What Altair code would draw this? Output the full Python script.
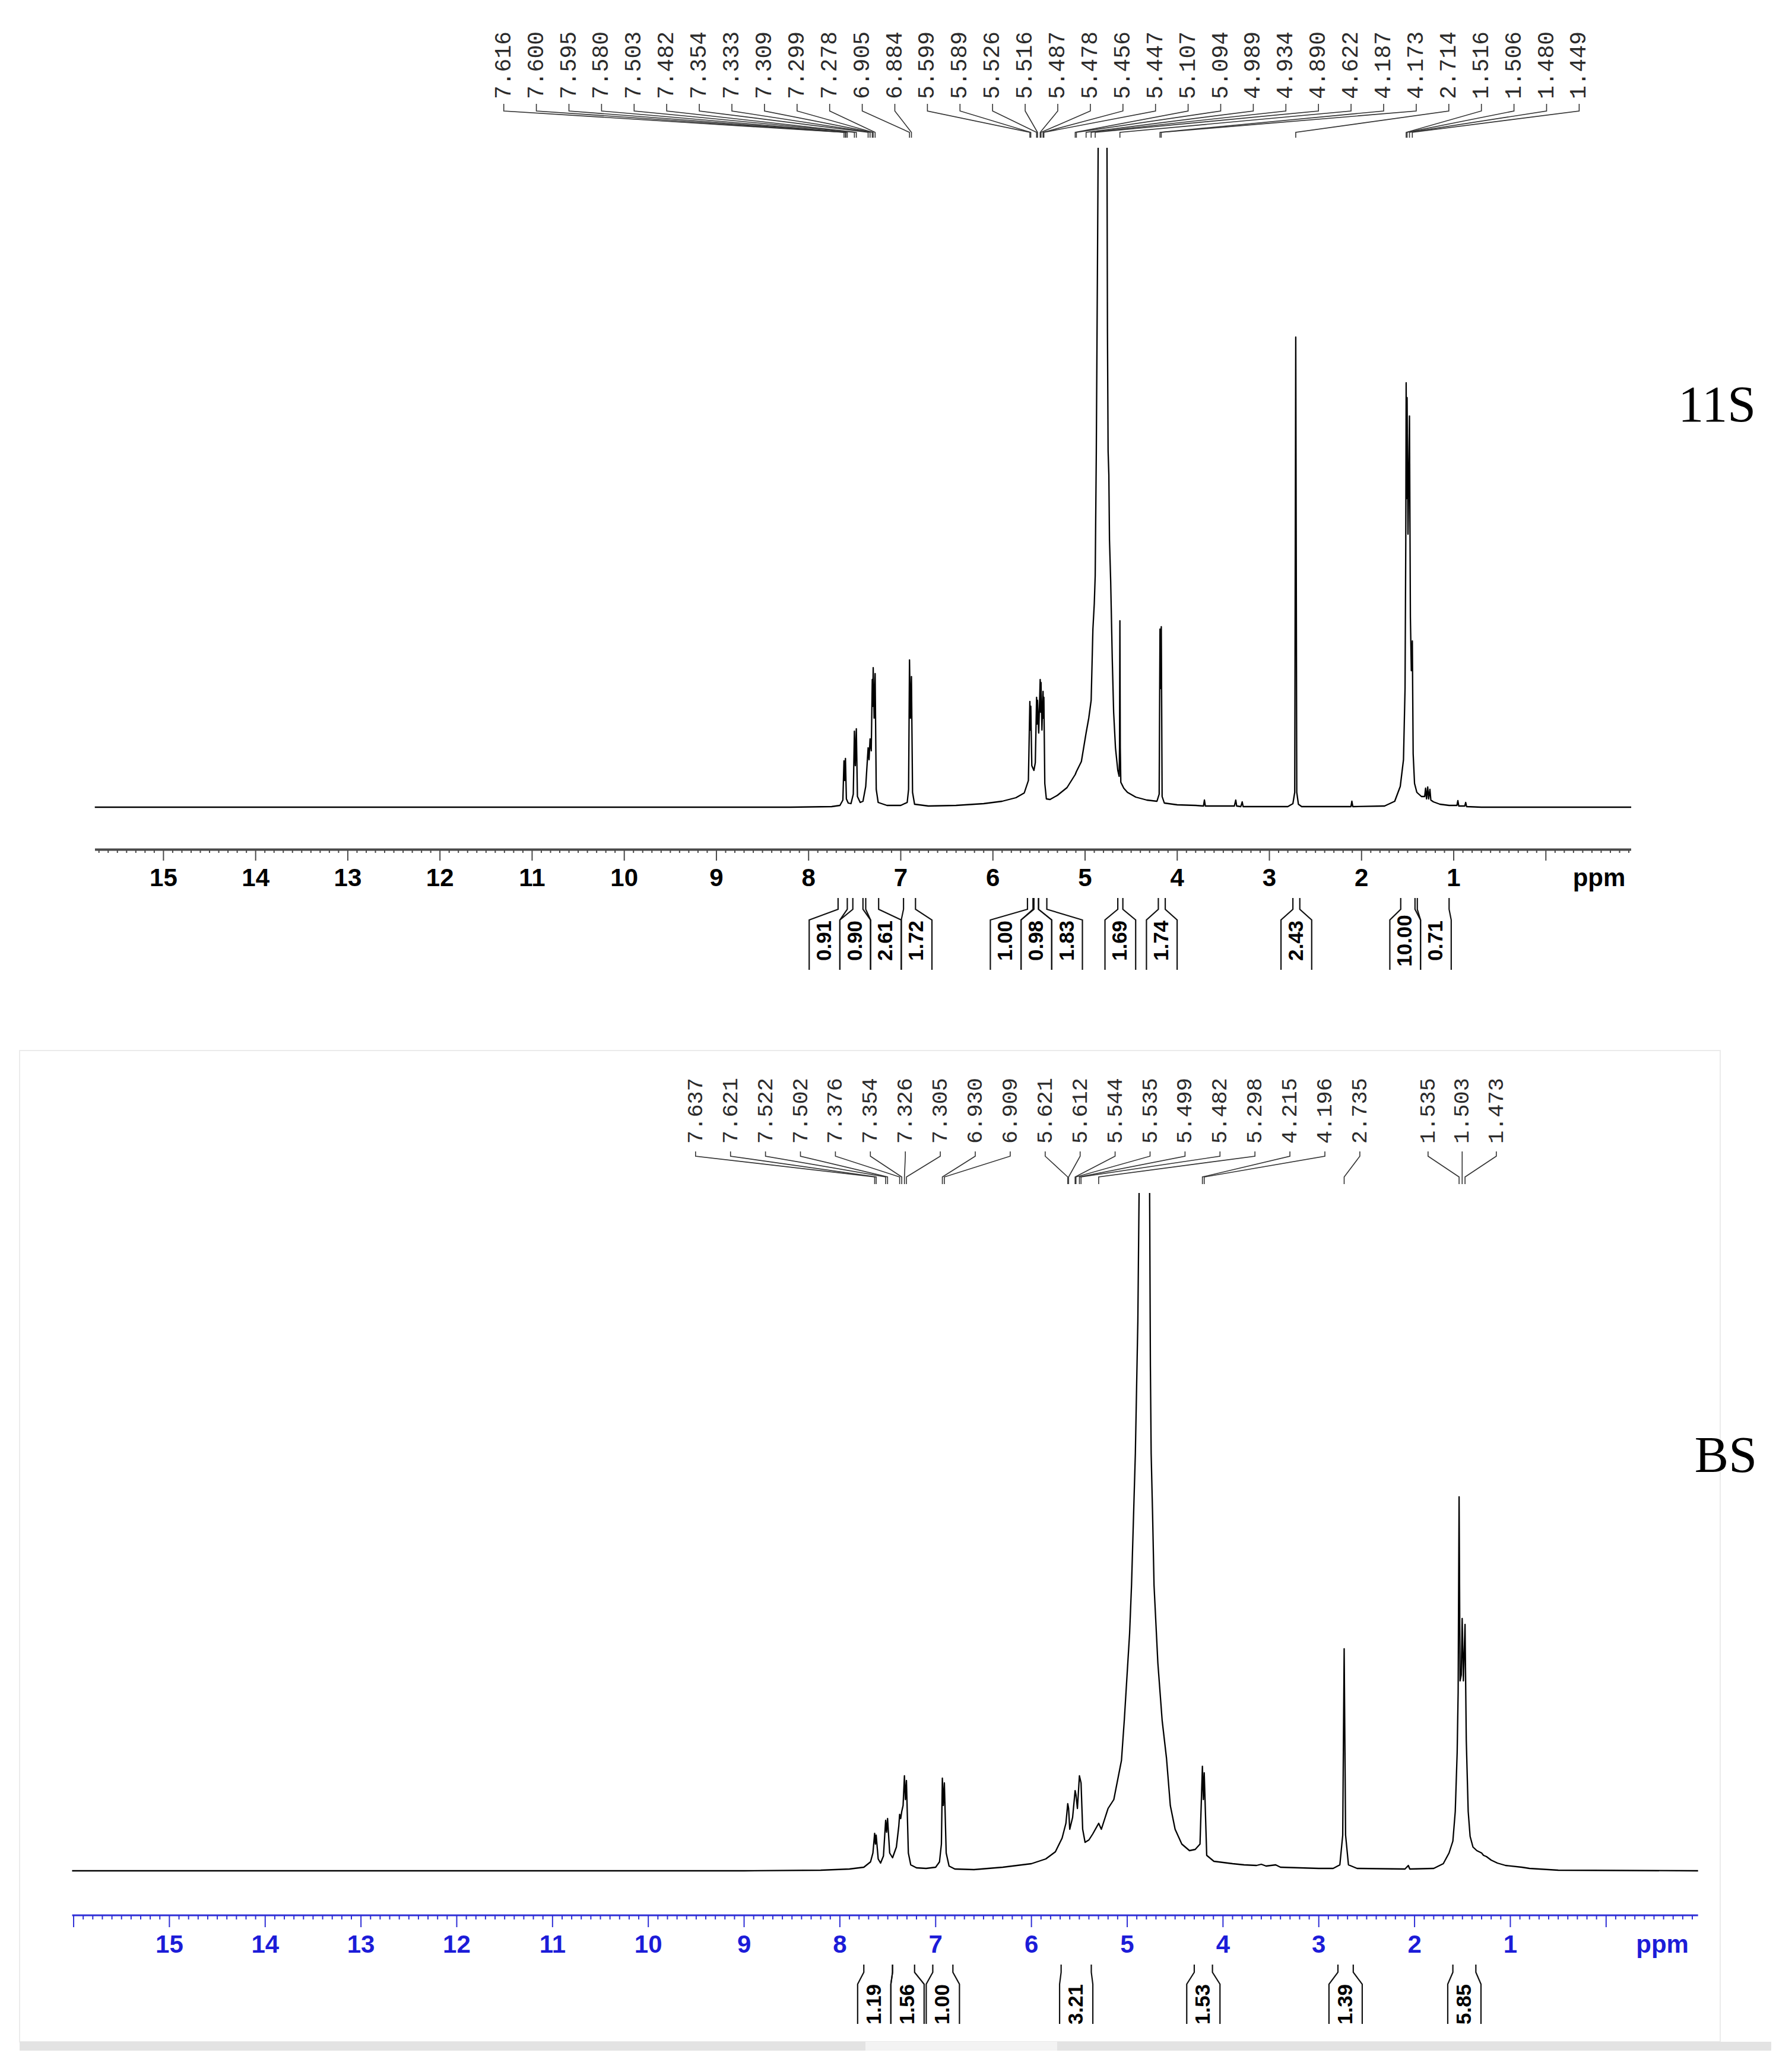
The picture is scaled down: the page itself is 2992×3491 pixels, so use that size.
import altair as alt
import pandas as pd

# ======================= DATA =======================
TOP_NAME = "11S"
BOT_NAME = "BS"
AXIS_TICK_LABELS = [15, 14, 13, 12, 11, 10, 9, 8, 7, 6, 5, 4, 3, 2, 1]

TOP_PEAK_LABELS = ["7.616", "7.600", "7.595", "7.580", "7.503", "7.482", "7.354", "7.333",
                   "7.309", "7.299", "7.278", "6.905", "6.884", "5.599", "5.589", "5.526",
                   "5.516", "5.487", "5.478", "5.456", "5.447", "5.107", "5.094", "4.989",
                   "4.934", "4.890", "4.622", "4.187", "4.173", "2.714", "1.516", "1.506",
                   "1.480", "1.449"]
BOT_PEAK_LABELS_A = ["7.637", "7.621", "7.522", "7.502", "7.376", "7.354", "7.326", "7.305",
                     "6.930", "6.909", "5.621", "5.612", "5.544", "5.535", "5.499", "5.482",
                     "5.298", "4.215", "4.196", "2.735"]
BOT_PEAK_LABELS_B = ["1.535", "1.503", "1.473"]

TOP_INTEGRALS = ["0.91", "0.90", "2.61", "1.72", "1.00", "0.98", "1.83", "1.69", "1.74",
                 "2.43", "10.00", "0.71"]
TOP_INT_FROM = [7.68, 7.52, 7.38, 6.97, 5.625, 5.555, 5.505, 4.645, 4.205, 2.745, 1.575, 1.395]
TOP_INT_TO = [7.58, 7.41, 7.24, 6.84, 5.565, 5.505, 5.415, 4.590, 4.130, 2.670, 1.420, 1.050]

BOT_INTEGRALS = ["1.19", "1.56", "1.00", "3.21", "1.53", "1.39", "5.85"]
BOT_INT_FROM = [7.75, 7.45, 7.03, 5.69, 4.30, 2.80, 1.60]
BOT_INT_TO = [7.45, 7.22, 6.82, 5.375, 4.11, 2.64, 1.36]

# spectrum traces: chemical shift (ppm) and intensity (arbitrary units)
TOP_TRACE_PPM = [
    15.745, 8.20, 7.75, 7.66, 7.628, 7.616, 7.608, 7.600, 7.590, 7.570, 7.540, 7.515, 7.503,
    7.493, 7.482, 7.470, 7.440, 7.410, 7.380, 7.354, 7.344, 7.333, 7.320, 7.309, 7.304, 7.299,
    7.289, 7.278, 7.266, 7.245, 7.150, 7.000, 6.930, 6.915, 6.905, 6.895, 6.884, 6.872, 6.850,
    6.700, 6.400, 6.100, 5.900, 5.750, 5.660, 5.615, 5.599, 5.594, 5.589, 5.578, 5.555, 5.540,
    5.526, 5.521, 5.516, 5.503, 5.487, 5.482, 5.478, 5.468, 5.456, 5.452, 5.447, 5.437, 5.420,
    5.380, 5.300, 5.196, 5.107, 5.094, 5.040, 4.989, 4.960, 4.934, 4.915, 4.900, 4.890, 4.878,
    4.866, 4.858, 4.762, 4.757, 4.750, 4.742, 4.735, 4.722, 4.705, 4.690, 4.670, 4.645, 4.630,
    4.626, 4.622, 4.618, 4.612, 4.580, 4.540, 4.450, 4.330, 4.220, 4.196, 4.187, 4.180, 4.173,
    4.164, 4.140, 4.000, 3.800, 3.715, 3.705, 3.695, 3.380, 3.365, 3.355, 3.310, 3.295, 3.285,
    2.800, 2.745, 2.725, 2.714, 2.703, 2.685, 2.650, 2.115, 2.105, 2.095, 1.750, 1.640, 1.580,
    1.545, 1.528, 1.520, 1.516, 1.511, 1.506, 1.496, 1.488, 1.480, 1.470, 1.460, 1.449, 1.440,
    1.425, 1.400, 1.350, 1.315, 1.305, 1.295, 1.282, 1.272, 1.258, 1.248, 1.220, 1.150, 1.050,
    0.965, 0.955, 0.945, 0.880, 0.870, 0.860, 0.700, -0.926]
TOP_TRACE_INT = [
    0, 0, 1, 3, 12, 78, 45, 82, 14, 7, 6, 22, 128,
    70, 132, 18, 8, 10, 35, 100, 80, 115, 95, 215, 170, 235,
    150, 225, 30, 8, 3, 3, 8, 30, 248, 150, 220, 25, 5,
    2, 3, 6, 10, 16, 24, 45, 178, 130, 170, 70, 62, 75,
    185, 140, 180, 125, 215, 160, 210, 130, 195, 150, 185, 40, 14,
    13, 20, 33, 55, 60, 77, 125, 150, 180, 300, 343, 390, 600,
    900, 1111, 1111, 800, 600, 560, 450, 380, 250, 160, 100, 62, 52,
    100, 314, 100, 42, 32, 25, 17, 12, 10, 22, 300, 200, 304,
    18, 7, 4, 3, 2, 12, 2, 2, 12, 2, 1, 9, 1,
    1, 6, 25, 792, 25, 5, 1, 1, 10, 1, 2, 10, 35,
    80, 200, 450, 715, 520, 690, 460, 560, 659, 320, 230, 280, 90,
    40, 25, 18, 18, 32, 14, 34, 14, 30, 12, 9, 5, 3,
    3, 11, 2, 2, 8, 1, 0, 0]

BOT_TRACE_PPM = [
    16.016, 9.000, 8.200, 7.900, 7.750, 7.680, 7.655, 7.637, 7.629, 7.621, 7.600, 7.575, 7.545,
    7.522, 7.512, 7.502, 7.480, 7.450, 7.410, 7.385, 7.376, 7.365, 7.354, 7.340, 7.326, 7.316,
    7.305, 7.285, 7.260, 7.200, 7.100, 7.000, 6.960, 6.940, 6.930, 6.920, 6.909, 6.890, 6.860,
    6.800, 6.600, 6.300, 6.000, 5.850, 5.750, 5.680, 5.640, 5.621, 5.612, 5.600, 5.570, 5.544,
    5.535, 5.520, 5.499, 5.482, 5.465, 5.440, 5.400, 5.360, 5.298, 5.270, 5.200, 5.140, 5.060,
    5.030, 4.975, 4.955, 4.915, 4.889, 4.876, 4.766, 4.758, 4.750, 4.735, 4.720, 4.680, 4.635,
    4.590, 4.550, 4.500, 4.430, 4.350, 4.290, 4.240, 4.215, 4.205, 4.196, 4.170, 4.095, 3.900,
    3.780, 3.650, 3.600, 3.550, 3.450, 3.400, 3.000, 2.850, 2.780, 2.750, 2.735, 2.720, 2.690,
    2.600, 2.100, 2.065, 2.050, 1.800, 1.700, 1.640, 1.600, 1.575, 1.555, 1.545, 1.535, 1.525,
    1.512, 1.503, 1.490, 1.473, 1.460, 1.440, 1.420, 1.390, 1.350, 1.300, 1.280, 1.250, 1.200,
    1.135, 1.050, 0.880, 0.800, 0.500, -0.960]
BOT_TRACE_INT = [
    0, 0, 1, 3, 6, 15, 30, 63, 45, 60, 20, 13, 25,
    85, 65, 88, 30, 22, 40, 75, 95, 88, 100, 110, 160, 120,
    152, 30, 10, 5, 4, 6, 15, 45, 156, 110, 148, 30, 8,
    3, 2, 6, 12, 20, 32, 55, 80, 113, 105, 70, 90, 135,
    128, 105, 160, 148, 70, 48, 52, 62, 80, 70, 105, 120, 186,
    255, 400, 481, 703, 926, 1142, 1142, 850, 703, 600, 481, 350, 253,
    190, 110, 70, 45, 34, 36, 45, 176, 120, 165, 26, 16, 12,
    10, 9, 11, 8, 10, 6, 4, 4, 10, 60, 374, 60, 10,
    4, 3, 9, 3, 4, 12, 30, 50, 100, 200, 300, 630, 320,
    330, 425, 320, 415, 220, 100, 58, 40, 34, 30, 26, 24, 18,
    13, 9, 6, 4, 1, 0]

# ======================= LAYOUT (pixels of the page) =======================
W = 2976
TOP_H, BOT_H = 1692, 1783
TOP_PAGE_Y0 = 8
BOT_PAGE_Y0 = 8 + TOP_H

TOP = dict(
    name=TOP_NAME, x15=275.4, ppx=155.26, base=1360, clip=1111, page_y0=TOP_PAGE_Y0, h=TOP_H,
    axis_x=(160, 2748), axis_y=1431.5, minor_y=1437, major_y=1450, lab_y=1493, ppm_x=2694,
    tick_range=(-9, 157), axis_color="#4a4a4a", axis_w=4, lab_color="#000000",
    pl_y=167, con_y=(175, 187, 223, 232), pl_size=38,
    int_y=(1513, 1532, 1550, 1634), int_text_y=1585, box_px=51.7,
    name_x=2958, name_y=710,
)
BOT = dict(
    name=BOT_NAME, x15=285.4, ppx=161.36, base=3152, clip=1142, page_y0=BOT_PAGE_Y0, h=BOT_H,
    axis_x=(121.6, 2860.7), axis_y=3227, minor_y=3234, major_y=3247, lab_y=3290, ppm_x=2800.6,
    tick_range=(-9, 160), axis_color="#2e2ed6", axis_w=3, lab_color="#1c1cd8",
    pl_y=1927, con_y=(1940, 1948, 1983, 1995), pl_size=37,
    int_y=(3310, 3323, 3343, 3410), int_text_y=3377, box_px=56,
    name_x=2960, name_y=2480,
)


def seg_ids(vals, clip):
    seg, out = 0, []
    for i, v in enumerate(vals):
        if i > 0 and v >= clip and vals[i - 1] >= clip:
            seg += 1
        out.append(seg)
    return out


def place_boxes(a, b, w):
    centers = [(p + q) / 2 for p, q in zip(a, b)]
    clusters = [[i] for i in range(len(centers))]
    mean = lambda c: sum(centers[i] for i in c) / len(c)
    changed = True
    while changed:
        changed = False
        for j in range(len(clusters) - 1):
            c1, c2 = clusters[j], clusters[j + 1]
            r1 = mean(c1) - len(c1) * w / 2
            l2 = mean(c2) + len(c2) * w / 2
            if r1 < l2 - 1e-9:
                clusters[j] = c1 + c2
                del clusters[j + 1]
                changed = True
                break
    L = [0.0] * len(centers)
    R = [0.0] * len(centers)
    for c in clusters:
        left = mean(c) + len(c) * w / 2
        for k, i in enumerate(c):
            L[i] = left - k * w
            R[i] = left - (k + 1) * w
    return L, R


def build_panel(cfg, trace_ppm, trace_int, label_groups, integrals, int_from, int_to):
    px2ppm = lambda px: 15 - (px - cfg["x15"]) / cfg["ppx"]
    py2v = lambda py: cfg["base"] - py
    XS = alt.Scale(domain=[px2ppm(8), px2ppm(8 + W)], zero=False, nice=False)
    YS = alt.Scale(domain=[py2v(cfg["page_y0"] + cfg["h"]), py2v(cfg["page_y0"])],
                   zero=False, nice=False)
    X = lambda f: alt.X(f, type="quantitative", scale=XS, axis=None)
    Y = lambda f: alt.Y(f, type="quantitative", scale=YS, axis=None)
    layers = []

    # spectrum trace
    tdf = pd.DataFrame({"ppm": trace_ppm, "v": trace_int})
    tdf["idx"] = range(len(tdf))
    tdf["seg"] = seg_ids(trace_int, cfg["clip"])
    layers.append(alt.Chart(tdf).mark_line(color="#000000", strokeWidth=2.3, strokeJoin="round")
                  .encode(x=X("ppm"), y=Y("v"), detail="seg:N", order="idx:Q"))

    # axis line
    adf = pd.DataFrame({"a": [px2ppm(cfg["axis_x"][0])], "b": [px2ppm(cfg["axis_x"][1])],
                        "y": [py2v(cfg["axis_y"])]})
    layers.append(alt.Chart(adf).mark_rule(color=cfg["axis_color"], strokeWidth=cfg["axis_w"])
                  .encode(x=X("a"), x2="b", y=Y("y")))
    # ticks
    k0, k1 = cfg["tick_range"]
    tk = [k / 10 for k in range(k0, k1 + 1)]
    tdf2 = pd.DataFrame({
        "ppm": tk,
        "y0": [py2v(cfg["axis_y"])] * len(tk),
        "y1": [py2v(cfg["major_y"] if abs(t - round(t)) < 1e-6 else cfg["minor_y"]) for t in tk],
    })
    layers.append(alt.Chart(tdf2).mark_rule(color=cfg["axis_color"], strokeWidth=2)
                  .encode(x=X("ppm"), y=Y("y0"), y2="y1"))
    # tick labels
    ldf = pd.DataFrame({"ppm": AXIS_TICK_LABELS, "t": [str(v) for v in AXIS_TICK_LABELS],
                        "y": [py2v(cfg["lab_y"])] * len(AXIS_TICK_LABELS)})
    layers.append(alt.Chart(ldf).mark_text(font="Liberation Sans", fontWeight="bold", fontSize=42,
                                           baseline="alphabetic", align="center",
                                           color=cfg["lab_color"])
                  .encode(x=X("ppm"), y=Y("y"), text="t:N"))
    pdf = pd.DataFrame({"ppm": [px2ppm(cfg["ppm_x"])], "y": [py2v(cfg["lab_y"])], "t": ["ppm"]})
    layers.append(alt.Chart(pdf).mark_text(font="Liberation Sans", fontWeight="bold", fontSize=42,
                                           baseline="alphabetic", align="center",
                                           color=cfg["lab_color"])
                  .encode(x=X("ppm"), y=Y("y"), text="t:N"))

    # peak labels + connectors
    lab_rows, con_rows = [], []
    n = 0
    for labels, first_px, step_px in label_groups:
        for i, s in enumerate(labels):
            lx = px2ppm(first_px + i * step_px)
            pk = float(s)
            lab_rows.append({"x": lx, "y": py2v(cfg["pl_y"]), "t": s})
            c0, c1, c2, c3 = [py2v(v) for v in cfg["con_y"]]
            for o, (xx, yy) in enumerate([(lx, c0), (lx, c1), (pk, c2), (pk, c3)]):
                con_rows.append({"k": n, "o": o, "x": xx, "y": yy})
            n += 1
    layers.append(alt.Chart(pd.DataFrame(con_rows)).mark_line(color="#333333", strokeWidth=1.6)
                  .encode(x=X("x"), y=Y("y"), detail="k:N", order="o:Q"))
    layers.append(alt.Chart(pd.DataFrame(lab_rows)).mark_text(
        angle=270, align="left", baseline="middle", font="Liberation Mono",
        fontSize=cfg["pl_size"], color="#2b2b2b")
        .encode(x=X("x"), y=Y("y"), text="t:N"))

    # integrals
    w = cfg["box_px"] / cfg["ppx"]
    L, R = place_boxes(int_from, int_to, w)
    y0, y1, y2, y3 = [py2v(v) for v in cfg["int_y"]]
    irows, itext = [], []
    for i, s in enumerate(integrals):
        for side, (top, box) in enumerate([(int_from[i], L[i]), (int_to[i], R[i])]):
            for o, (xx, yy) in enumerate([(top, y0), (top, y1), (box, y2), (box, y3)]):
                irows.append({"k": f"{i}_{side}", "o": o, "x": xx, "y": yy})
        itext.append({"x": (L[i] + R[i]) / 2, "y": py2v(cfg["int_text_y"]), "t": s})
    layers.append(alt.Chart(pd.DataFrame(irows)).mark_line(color="#111111", strokeWidth=2.2)
                  .encode(x=X("x"), y=Y("y"), detail="k:N", order="o:Q"))
    layers.append(alt.Chart(pd.DataFrame(itext)).mark_text(
        angle=270, align="center", baseline="middle",
        font="Liberation Sans Narrow, Arial Narrow, Liberation Sans", fontWeight="bold",
        fontSize=35, color="#000000")
        .encode(x=X("x"), y=Y("y"), text="t:N"))

    # sample name
    ndf = pd.DataFrame({"x": [px2ppm(cfg["name_x"])], "y": [py2v(cfg["name_y"])],
                        "t": [cfg["name"]]})
    layers.append(alt.Chart(ndf).mark_text(font="Liberation Serif", fontSize=86, align="right",
                                           baseline="alphabetic", color="#000000")
                  .encode(x=X("x"), y=Y("y"), text="t:N"))

    return layers, px2ppm, py2v, X, Y


top_layers, _, _, _, _ = build_panel(
    TOP, TOP_TRACE_PPM, TOP_TRACE_INT,
    [(TOP_PEAK_LABELS, 848.7, 54.9)],
    TOP_INTEGRALS, TOP_INT_FROM, TOP_INT_TO)

bot_layers, bpx, bpy, BX, BY = build_panel(
    BOT, BOT_TRACE_PPM, BOT_TRACE_INT,
    [(BOT_PEAK_LABELS_A, 1171.8, 58.9), (BOT_PEAK_LABELS_B, 2405.8, 57.5)],
    BOT_INTEGRALS, BOT_INT_FROM, BOT_INT_TO)

# faint screenshot frame around the lower spectrum
frame = pd.DataFrame({"a": [bpx(33)], "b": [bpx(2898)], "y0": [bpy(1770)], "y1": [bpy(3440)]})
bar = pd.DataFrame({"a": [bpx(33), bpx(1458)], "b": [bpx(2984), bpx(1781)],
                    "y0": [bpy(3440), bpy(3440)], "y1": [bpy(3455), bpy(3455)],
                    "c": ["#e3e3e3", "#f3f3f3"]})
bot_layers = [
    alt.Chart(frame).mark_rect(filled=False, stroke="#ebebeb", strokeWidth=2)
    .encode(x=BX("a"), x2="b", y=BY("y0"), y2="y1"),
    alt.Chart(bar).mark_rect().encode(x=BX("a"), x2="b", y=BY("y0"), y2="y1",
                                      color=alt.Color("c:N", scale=None)),
] + bot_layers

top_chart = alt.layer(*top_layers).properties(width=W, height=TOP_H)
bot_chart = alt.layer(*bot_layers).properties(width=W, height=BOT_H)

chart = (alt.vconcat(top_chart, bot_chart, spacing=0, bounds="flush")
         .properties(padding=0, background="white")
         .configure_view(strokeWidth=0))

chart.save("out.html", embed_options={"renderer": "svg", "actions": False})
